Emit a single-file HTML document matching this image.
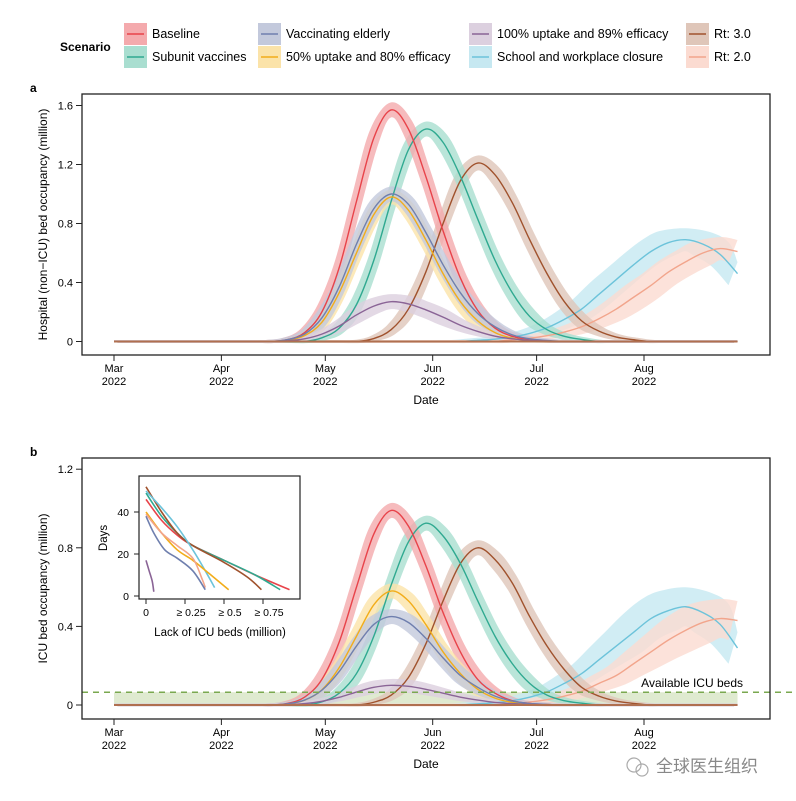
<!DOCTYPE html>
<html><head><meta charset="utf-8">
<style>
body{margin:0;background:#fff;}
svg{display:block;font-family:"Liberation Sans","Noto Sans CJK SC",sans-serif;}
</style></head>
<body>
<svg id="chart" width="796" height="801" viewBox="0 0 796 801"></svg>
<script>
// ---- data ----
const dayGrid = [0,5,10,15,20,25,30,35,40,45,50,55,60,65,70,75,80,85,90,95,100,105,110,115,120,125,130,135,140,145,150,155,160,165,170,175,180];
const seriesNames = ["Baseline","Subunit vaccines","Vaccinating elderly","50% uptake and 80% efficacy","100% uptake and 89% efficacy","School and workplace closure","Rt: 3.0","Rt: 2.0"];
const monthLabels = ["Mar","Apr","May","Jun","Jul","Aug"];
const monthDays = [0,31,61,92,122,153];
const yTicksA = [0,0.4,0.8,1.2,1.6];
const yTicksB = [0,0.4,0.8,1.2];
const icuCapacity = 0.065;
// panel a (hospital beds, million), sampled every 5 days
const aBaseline = [0,0,0,0,0,0,0,0,0,0,.012,.06,.2,.5,.95,1.38,1.57,1.44,1.12,.75,.43,.21,.09,.035,.012,.004,0,0,0,0,0,0,0,0,0,0,0];
const aSubunit  = [0,0,0,0,0,0,0,0,0,0,0,0,.025,.09,.25,.55,.95,1.30,1.44,1.35,1.12,.83,.55,.33,.17,.08,.035,.014,0,0,0,0,0,0,0,0,0];
const aElderly  = [0,0,0,0,0,0,0,0,0,0,.012,.05,.16,.37,.66,.90,1.0,.93,.74,.52,.33,.19,.10,.045,.018,.007,0,0,0,0,0,0,0,0,0,0,0];
const aUptake50 = [0,0,0,0,0,0,0,0,0,0,.008,.04,.13,.33,.60,.86,.98,.89,.69,.46,.27,.14,.06,.022,.008,.003,0,0,0,0,0,0,0,0,0,0,0];
const aUptake100= [0,0,0,0,0,0,0,0,0,0,.005,.018,.05,.105,.18,.24,.27,.255,.215,.165,.11,.068,.036,.018,.008,.003,0,0,0,0,0,0,0,0,0,0,0];
const aSchool   = [0,0,0,0,0,0,0,0,0,0,0,0,0,0,0,0,0,0,0,0,0,.008,.016,.03,.055,.093,.15,.22,.32,.42,.52,.61,.67,.69,.66,.59,.46];
const aRt3      = [0,0,0,0,0,0,0,0,0,0,0,0,0,0,0,.02,.08,.22,.47,.80,1.09,1.21,1.13,.94,.69,.46,.27,.14,.07,.03,.012,0,0,0,0,0,0];
const aRt2      = [0,0,0,0,0,0,0,0,0,0,0,0,0,0,0,0,0,0,0,0,0,0,0,.012,.022,.039,.064,.10,.154,.22,.30,.38,.47,.54,.60,.63,.61];
// panel b (ICU beds, million)
const bBaseline = [0,0,0,0,0,0,0,0,0,0,.008,.04,.13,.32,.60,.87,.99,.91,.71,.47,.27,.13,.06,.022,.008,.003,0,0,0,0,0,0,0,0,0,0,0];
const bSubunit  = [0,0,0,0,0,0,0,0,0,0,0,0,.016,.06,.16,.35,.61,.83,.925,.86,.72,.53,.35,.21,.11,.05,.022,.009,0,0,0,0,0,0,0,0,0];
const bElderly  = [0,0,0,0,0,0,0,0,0,0,.006,.025,.075,.17,.30,.41,.45,.42,.34,.24,.15,.09,.045,.02,.008,.003,0,0,0,0,0,0,0,0,0,0,0];
const bUptake50 = [0,0,0,0,0,0,0,0,0,0,.005,.024,.077,.19,.35,.51,.58,.53,.41,.27,.16,.08,.035,.013,.005,.002,0,0,0,0,0,0,0,0,0,0,0];
const bUptake100= [0,0,0,0,0,0,0,0,0,0,.002,.007,.019,.039,.066,.09,.10,.095,.08,.06,.04,.025,.013,.007,.003,.001,0,0,0,0,0,0,0,0,0,0,0];
const bSchool   = [0,0,0,0,0,0,0,0,0,0,0,0,0,0,0,0,0,0,0,0,0,.006,.012,.022,.04,.067,.11,.16,.23,.30,.37,.44,.48,.50,.47,.41,.29];
const bRt3      = [0,0,0,0,0,0,0,0,0,0,0,0,0,0,0,.014,.05,.14,.31,.53,.72,.80,.74,.62,.45,.30,.18,.09,.045,.02,.008,0,0,0,0,0,0];
const bRt2      = [0,0,0,0,0,0,0,0,0,0,0,0,0,0,0,0,0,0,0,0,0,0,0,.008,.015,.027,.045,.07,.11,.15,.21,.27,.33,.38,.42,.44,.43];
// inset: lack of ICU beds (million) vs days
const insetX = {
 baseline:[0,.1,.2,.3,.5,.7,.92], subunit:[0,.1,.2,.3,.5,.7,.86], rt3:[0,.1,.2,.3,.5,.65,.74],
 school:[0,.1,.2,.3,.38,.44], uptake50:[0,.1,.2,.3,.4,.53], rt2:[0,.1,.2,.3,.36,.38],
 elderly:[0,.05,.12,.2,.3,.38], uptake100:[0,.02,.04,.05]};
const insetY = {
 baseline:[46,36,29,24,17,10,3], subunit:[49,38,30,24,17,10,3], rt3:[52,40,30,24,16,9,3],
 school:[50,42,33,22,12,4], uptake50:[40,30,22,17,11,3], rt2:[39,30,24,18,8,4],
 elderly:[38,30,22,18,12,3], uptake100:[17,12,7,2]};
const insetXTicks=[0,0.25,0.5,0.75], insetXLabels=["0","\u2265 0.25","\u2265 0.5","\u2265 0.75"], insetYTicks=[0,20,40];

// ---- drawing ----
const NS="http://www.w3.org/2000/svg";
const svg=document.getElementById('chart');
function el(tag,attrs,parent,text){const e=document.createElementNS(NS,tag);for(const k in attrs)e.setAttribute(k,attrs[k]);if(text!==undefined)e.textContent=text;(parent||svg).appendChild(e);return e;}
const colors={baseline:"#e8434a",subunit:"#2fa990",elderly:"#6f7fae",uptake50:"#f2ad1a",uptake100:"#8a6496",school:"#6cc3da",rt3:"#a0522d",rt2:"#f2a58c"};
const fills={baseline:"#f4aaad",subunit:"#a9ded0",elderly:"#c3c9dc",uptake50:"#fbe3a9",uptake100:"#dcd0df",school:"#c6e8f1",rt3:"#dfc6b9",rt2:"#fbdbd1"};
const xDay=d=>114+d*3.464;
const xMin=xDay(0), xMax=xDay(180);
function smooth(pts,move){let d=(move===false?"L":"M")+pts[0][0]+","+pts[0][1];for(let i=0;i<pts.length-1;i++){const p0=pts[i-1]||pts[i],p1=pts[i],p2=pts[i+1],p3=pts[i+2]||p2;
 d+=" C"+(p1[0]+(p2[0]-p0[0])/6)+","+(p1[1]+(p2[1]-p0[1])/6)+" "+(p2[0]-(p3[0]-p1[0])/6)+","+(p2[1]-(p3[1]-p1[1])/6)+" "+p2[0]+","+p2[1];}return d;}

function panel(opts){
 const {top,bottom,zeroY,unitPx,yTicks,series,letter,ylabel,icu}=opts;
 const g=el('g',{},svg);
 const yV=v=>zeroY-v*unitPx;
 el('text',{x:30,y:top-2,'font-size':12,'font-weight':'bold'},g,letter);
 if(icu){
  const f=el('rect',{x:xMin,y:yV(icu),width:xMax-xMin,height:yV(0)-yV(icu),fill:'#dfead0'},g);
  
 }
 const order=["school","rt2","rt3","subunit","baseline","uptake50","elderly","uptake100"];
 for(const k of order){
  const vals=series[k];
  const late=(k==="school"||k==="rt2");
  const dx=late?9:4, padMax=late?(letter==='a'?10:18):6;
  let pk=0;vals.forEach((v,i)=>{if(v>vals[pk])pk=i;});
  const up=[],lo=[];
  const cl=x=>Math.max(xMin,Math.min(xMax,x));
  dayGrid.forEach((d,i)=>{const v=vals[i];const s=i<pk?-1:(i>pk?1:0);const pad=Math.min(padMax,v*unitPx*0.25)+1.5;
   up.push([cl(xDay(d)+s*dx),yV(v)-pad]);lo.push([cl(xDay(d)-s*dx),yV(v)+pad]);});
  const d=smooth(up)+" "+smooth(lo.reverse(),false)+" Z";
  const r=el('path',{d:d,fill:fills[k],'fill-opacity':0.8},g);
  
 }
 for(const k of order){
  const pts=dayGrid.map((d,i)=>[xDay(d),yV(series[k][i])]);
  const l=el('path',{d:smooth(pts),fill:'none',stroke:colors[k],'stroke-width':1.4},g);
  
 }
 const zl=el('line',{x1:xMin,x2:xMax,y1:yV(0),y2:yV(0),stroke:'#b07050','stroke-width':2},g);
 
 if(icu){
  const dl=el('line',{x1:82,x2:796,y1:yV(icu),y2:yV(icu),stroke:'#7aa84f','stroke-width':1.5,'stroke-dasharray':'6,5'},g);
  
  el('text',{x:743,y:yV(icu)-5,'font-size':12,'text-anchor':'end'},g,'Available ICU beds');
 }
 const box=el('rect',{x:82,y:top,width:688,height:bottom-top,fill:'none',stroke:'#222','stroke-width':1.3},g);
 
 for(const t of yTicks){
  el('line',{x1:76,x2:82,y1:yV(t),y2:yV(t),stroke:'#222'},g);
  el('text',{x:73,y:yV(t)+4,'font-size':11,'text-anchor':'end'},g,t===0?'0':t.toFixed(1));
 }
 monthDays.forEach((d,i)=>{
  el('line',{x1:xDay(d),x2:xDay(d),y1:bottom,y2:bottom+6,stroke:'#222'},g);
  const t=el('text',{x:xDay(d),y:bottom+17,'font-size':11,'text-anchor':'middle'},g,monthLabels[i]);
  el('text',{x:xDay(d),y:bottom+30,'font-size':11,'text-anchor':'middle'},g,'2022');
 });
 el('text',{x:426,y:bottom+49,'font-size':12,'text-anchor':'middle'},g,'Date');
 const yl=el('text',{x:0,y:0,'font-size':12,'text-anchor':'middle',transform:`translate(47,${(top+bottom)/2}) rotate(-90)`},g,ylabel);
 
}

panel({top:94,bottom:355,zeroY:341.5,unitPx:147.5,yTicks:yTicksA,letter:'a',ylabel:'Hospital (non\u2212ICU) bed occupancy (million)',
 series:{baseline:aBaseline,subunit:aSubunit,elderly:aElderly,uptake50:aUptake50,uptake100:aUptake100,school:aSchool,rt3:aRt3,rt2:aRt2}});
panel({top:458,bottom:719,zeroY:705,unitPx:196.5,yTicks:yTicksB,letter:'b',ylabel:'ICU bed occupancy (million)',icu:icuCapacity,
 series:{baseline:bBaseline,subunit:bSubunit,elderly:bElderly,uptake50:bUptake50,uptake100:bUptake100,school:bSchool,rt3:bRt3,rt2:bRt2}});

// inset
const ig=el('g',{},svg);
el('rect',{x:139,y:476,width:161,height:123,fill:'#fff',stroke:'#222','stroke-width':1.2},ig);
const ix=v=>146+v*156, iy=v=>596-v*2.1;
for(const k of ["baseline","subunit","rt3","school","uptake50","rt2","elderly","uptake100"]){
 const pts=insetX[k].map((x,i)=>[ix(x),iy(insetY[k][i])]);
 const p=el('path',{d:smooth(pts),fill:'none',stroke:colors[k],'stroke-width':1.6},ig);
 
}
insetYTicks.forEach(t=>{el('line',{x1:134,x2:139,y1:iy(t),y2:iy(t),stroke:'#222'},ig);
 el('text',{x:129,y:iy(t)+4,'font-size':10.5,'text-anchor':'end'},ig,String(t));});
insetXTicks.forEach((t,i)=>{el('line',{x1:ix(t),x2:ix(t),y1:599,y2:604,stroke:'#222'},ig);
 el('text',{x:ix(t)+(i?6:0),y:616,'font-size':10.5,'text-anchor':'middle'},ig,insetXLabels[i]);});
el('text',{x:0,y:0,'font-size':11.5,'text-anchor':'middle',transform:'translate(107,538) rotate(-90)'},ig,'Days');
el('text',{x:220,y:636,'font-size':11.5,'text-anchor':'middle'},ig,'Lack of ICU beds (million)');

// legend
const lg=el('g',{},svg);
el('text',{x:60,y:51,'font-size':12,'font-weight':'bold'},lg,'Scenario');
const legendItems=[["baseline",124,34],["subunit",124,57],["elderly",258,34],["uptake50",258,57],["uptake100",469,34],["school",469,57],["rt3",686,34],["rt2",686,57]];
const legendLabels={baseline:"Baseline",subunit:"Subunit vaccines",elderly:"Vaccinating elderly",uptake50:"50% uptake and 80% efficacy",uptake100:"100% uptake and 89% efficacy",school:"School and workplace closure",rt3:"Rt: 3.0",rt2:"Rt: 2.0"};
legendItems.forEach(([k,x,y])=>{
 const e=el('g',{},lg);
 el('rect',{x:x,y:y-11,width:23,height:22,fill:fills[k]},e);
 el('line',{x1:x+3,x2:x+20,y1:y,y2:y,stroke:colors[k],'stroke-width':1.6},e);
 el('text',{x:x+28,y:y+4,'font-size':12.5},e,legendLabels[k]);
});

// watermark
const wm=el('g',{},svg);
el('circle',{cx:634,cy:765,r:7,fill:'none',stroke:'#aaa','stroke-width':1.2},wm);
el('circle',{cx:642,cy:770,r:6,fill:'none',stroke:'#aaa','stroke-width':1.2},wm);
el('text',{x:656,y:772,'font-size':17,fill:'#888'},wm,'全球医生组织');
</script>
</body></html>
